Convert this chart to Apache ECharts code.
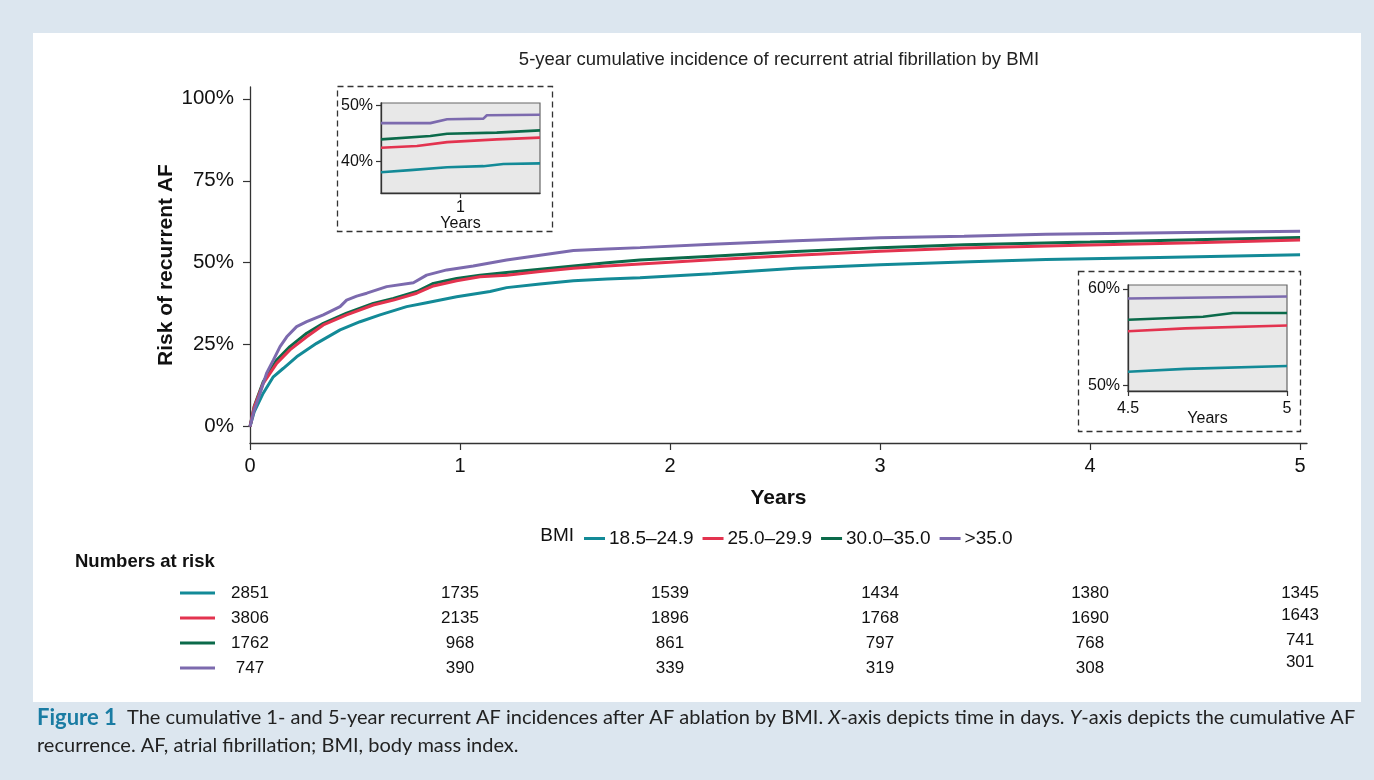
<!DOCTYPE html>
<html>
<head>
<meta charset="utf-8">
<script src="https://cdn.jsdelivr.net/npm/echarts@6/dist/echarts.min.js"></script>
<style>
  html, body { margin: 0; padding: 0; background: #fff; }
  #chart { width: 1374px; height: 780px; }
</style>
</head>
<body>
<div id="chart"></div>
<script>
// BMI groups (legend order)
const groupNames = ['18.5–24.9', '25.0–29.9', '30.0–35.0', '>35.0'];
const groupColors = ['#138a97', '#e3334f', '#0b6a4a', '#7c6aae'];

// cumulative incidence, [years, percent]
const bmiNormal = [[0, 0], [0.02, 4.5], [0.063, 10.2], [0.111, 15.2], [0.159, 17.8], [0.222, 21.3], [0.317, 25.4], [0.429, 29.5], [0.524, 32.0], [0.619, 34.1], [0.746, 36.6], [0.841, 37.8], [0.984, 39.6], [1.143, 41.2], [1.222, 42.4], [1.381, 43.5], [1.54, 44.5], [1.70, 45.0], [1.857, 45.4], [2.2, 46.6], [2.6, 48.3], [3.0, 49.4], [3.43, 50.3], [3.79, 51.0], [4.33, 51.6], [5.0, 52.4]];
const bmiOver = [[0, 0], [0.02, 6], [0.063, 13.2], [0.127, 19.3], [0.19, 23.4], [0.27, 27.4], [0.349, 31.0], [0.46, 34.1], [0.587, 37.1], [0.683, 38.6], [0.794, 40.7], [0.873, 42.9], [0.984, 44.5], [1.095, 45.7], [1.222, 46.2], [1.381, 47.3], [1.54, 48.3], [1.70, 49.0], [1.857, 49.6], [2.2, 50.9], [2.6, 52.3], [3.0, 53.5], [3.4, 54.5], [4.0, 55.4], [4.5, 56.1], [5.0, 56.9]];
const bmiObese = [[0, 0], [0.02, 6.2], [0.063, 13.7], [0.127, 20.3], [0.19, 24.4], [0.27, 28.5], [0.349, 31.5], [0.46, 34.6], [0.587, 37.6], [0.683, 39.1], [0.794, 41.2], [0.873, 43.7], [0.984, 45.2], [1.095, 46.2], [1.222, 47.0], [1.381, 48.0], [1.54, 49.0], [1.70, 50.0], [1.857, 50.8], [2.2, 52.0], [2.6, 53.4], [3.0, 54.6], [3.4, 55.5], [4.0, 56.3], [4.5, 57.0], [5.0, 57.7]];
const bmiSevere = [[0, 0], [0.02, 5], [0.048, 10.2], [0.079, 16.3], [0.111, 20.3], [0.143, 24.4], [0.175, 27.4], [0.222, 30.5], [0.27, 32.0], [0.349, 34.1], [0.429, 36.6], [0.46, 38.6], [0.508, 39.8], [0.556, 40.7], [0.651, 42.7], [0.778, 43.9], [0.841, 46.2], [0.937, 47.8], [1.063, 49.0], [1.222, 50.8], [1.381, 52.3], [1.54, 53.7], [1.70, 54.2], [1.857, 54.6], [2.2, 55.6], [2.6, 56.7], [3.0, 57.6], [3.4, 58.1], [3.79, 58.7], [4.46, 59.2], [5.0, 59.6]];

// inset around 1 year
const zoom1Normal = [[0.75, 38.0], [0.842, 38.4], [0.958, 38.9], [1.072, 39.1], [1.135, 39.5], [1.25, 39.6]];
const zoom1Over = [[0.75, 42.4], [0.863, 42.7], [0.958, 43.4], [1.114, 43.9], [1.25, 44.2]];
const zoom1Obese = [[0.75, 43.9], [0.905, 44.5], [0.958, 44.9], [1.114, 45.1], [1.25, 45.5]];
const zoom1Severe = [[0.75, 46.8], [0.905, 46.8], [0.958, 47.5], [1.072, 47.6], [1.083, 48.2], [1.25, 48.3]];

// inset 4.5 - 5 years
const zoom5Normal = [[4.5, 51.4], [4.68, 51.7], [5.0, 52.0]];
const zoom5Over = [[4.5, 55.6], [4.68, 55.9], [5.0, 56.2]];
const zoom5Obese = [[4.5, 56.8], [4.736, 57.1], [4.83, 57.5], [5.0, 57.5]];
const zoom5Severe = [[4.5, 59.0], [5.0, 59.2]];

const yearTicks = [0, 1, 2, 3, 4, 5];
const pctTicks = [0, 25, 50, 75, 100];

// numbers at risk per year
const riskNormal = [2851, 1735, 1539, 1434, 1380, 1345];
const riskOver = [3806, 2135, 1896, 1768, 1690, 1643];
const riskObese = [1762, 968, 861, 797, 768, 741];
const riskSevere = [747, 390, 339, 319, 308, 301];

const FONT = '"Liberation Sans", Arial, sans-serif';
const AXIS_COLOR = '#333';
const TEXT_COLOR = '#111';

const mainData = [bmiNormal, bmiOver, bmiObese, bmiSevere];
const zoom1Data = [zoom1Normal, zoom1Over, zoom1Obese, zoom1Severe];
const zoom5Data = [zoom5Normal, zoom5Over, zoom5Obese, zoom5Severe];
const riskRows = [riskNormal, riskOver, riskObese, riskSevere];
const drawOrder = [0, 2, 1, 3];

const crearEje = (gridIndex, min, max, ticks, opts) => ({
    type: 'value',
    gridIndex: gridIndex,
    min: min,
    max: max,
    axisLine: { show: true, onZero: false, lineStyle: { color: AXIS_COLOR, width: 1.3 } },
    axisTick: { show: true, length: opts.tick, customValues: ticks, lineStyle: { color: AXIS_COLOR, width: 1.2 } },
    axisLabel: {
        customValues: ticks,
        fontSize: opts.font,
        fontFamily: FONT,
        color: TEXT_COLOR,
        margin: opts.margin,
        formatter: opts.pct ? (v => v + '%') : (v => String(v))
    },
    splitLine: { show: false },
    name: opts.name || '',
    nameLocation: 'middle',
    nameGap: opts.nameGap || 0,
    nameMoveOverlap: false,
    nameTextStyle: {
        fontSize: opts.nameSize || 16,
        fontWeight: opts.nameBold ? 'bold' : 'normal',
        fontFamily: FONT,
        color: TEXT_COLOR
    }
});

const chart = echarts.init(document.getElementById('chart'), null, { renderer: 'canvas' });

const series = [];
const agregarSeries = (datos, axisIndex, width) => {
    drawOrder.forEach(i => {
        series.push({
            name: groupNames[i],
            type: 'line',
            xAxisIndex: axisIndex,
            yAxisIndex: axisIndex,
            data: datos[i],
            showSymbol: false,
            clip: true,
            lineStyle: { color: groupColors[i], width: width },
            itemStyle: { color: groupColors[i] },
            emphasis: { disabled: true }
        });
    });
};
agregarSeries(mainData, 0, 3);
agregarSeries(zoom1Data, 1, 2.6);
agregarSeries(zoom5Data, 2, 2.6);

const opciones = {
    animation: false,
    backgroundColor: '#ffffff',
    grid: [
        { left: 250, top: 87, width: 1057, height: 356 },
        { left: 381, top: 103, width: 159, height: 90, show: true, backgroundColor: '#e8e8e8', borderColor: '#666', borderWidth: 1.2 },
        { left: 1128, top: 285, width: 159, height: 106, show: true, backgroundColor: '#e8e8e8', borderColor: '#666', borderWidth: 1.2 }
    ],
    xAxis: [
        crearEje(0, 0, 5.033, yearTicks, { tick: 7, font: 20, margin: 13, name: 'Years', nameGap: 45, nameSize: 21, nameBold: true }),
        crearEje(1, 0.75, 1.25, [1], { tick: 5, font: 16, margin: 7, name: 'Years', nameGap: 23, nameSize: 16 }),
        crearEje(2, 4.5, 5, [4.5, 5], { tick: 5, font: 16, margin: 10, name: 'Years', nameGap: 20, nameSize: 16 })
    ],
    yAxis: [
        crearEje(0, -5, 103.6, pctTicks, { tick: 7, font: 20.5, margin: 16, pct: true, name: 'Risk of recurrent AF', nameGap: 73, nameSize: 21, nameBold: true }),
        crearEje(1, 34.3, 50.4, [40, 50], { tick: 5, font: 16, margin: 8, pct: true }),
        crearEje(2, 49.4, 60.4, [50, 60], { tick: 5, font: 16, margin: 8, pct: true })
    ],
    legend: {
        data: groupNames,
        left: 579,
        top: 524,
        icon: 'rect',
        itemWidth: 21,
        itemHeight: 3,
        itemGap: 9,
        selectedMode: false,
        textStyle: { fontSize: 19, fontFamily: FONT, color: TEXT_COLOR, padding: [0, 0, 0, -1] }
    },
    series: series
};

chart.setOption(opciones);

// fixed decorations and the numbers-at-risk table
const graficos = [
    // blue page border and caption band
    { type: 'rect', shape: { x: 0, y: 0, width: 1374, height: 33 }, style: { fill: '#dce6ef' } },
    { type: 'rect', shape: { x: 0, y: 0, width: 33, height: 780 }, style: { fill: '#dce6ef' } },
    { type: 'rect', shape: { x: 1361, y: 0, width: 13, height: 780 }, style: { fill: '#dce6ef' } },
    { type: 'rect', shape: { x: 0, y: 702, width: 1374, height: 78 }, style: { fill: '#dce6ef' } },
    // dashed inset frames
    { type: 'rect', shape: { x: 337.5, y: 86.5, width: 215, height: 145 }, style: { fill: 'none', stroke: '#333', lineWidth: 1.3, lineDash: [6, 4] } },
    { type: 'rect', shape: { x: 1078.5, y: 271.5, width: 222, height: 160 }, style: { fill: 'none', stroke: '#333', lineWidth: 1.3, lineDash: [6, 4] } },
    {
        type: 'text', x: 779, y: 60,
        style: { text: '5-year cumulative incidence of recurrent atrial fibrillation by BMI', font: '18.5px ' + FONT, fill: '#222', textAlign: 'center', textVerticalAlign: 'middle' }
    },
    {
        type: 'text', x: 574, y: 536,
        style: { text: 'BMI', font: '19px ' + FONT, fill: TEXT_COLOR, textAlign: 'right', textVerticalAlign: 'middle' }
    },
    {
        type: 'text', x: 75, y: 562,
        style: { text: 'Numbers at risk', font: 'bold 18.5px ' + FONT, fill: TEXT_COLOR, textAlign: 'left', textVerticalAlign: 'middle' }
    },
    {
        type: 'text', x: 37, y: 732,
        style: {
            text: '{b|Figure 1}  The cumulative 1- and 5-year recurrent AF incidences after AF ablation by BMI. {i|X}-axis depicts time in days. {i|Y}-axis depicts the cumulative AF\nrecurrence. AF, atrial fibrillation; BMI, body mass index.',
            font: '20px Lato, "Open Sans", sans-serif',
            fill: '#222',
            lineHeight: 28,
            textVerticalAlign: 'middle',
            rich: {
                b: { font: 'bold 22px Lato, sans-serif', fill: '#1a7ca3', lineHeight: 28 },
                i: { font: 'italic 20px Lato, sans-serif', fill: '#222', lineHeight: 28 }
            }
        }
    }
];

const rowY = [593, 618, 643, 668];
const lastColY = [593, 615, 640, 662];
riskRows.forEach((fila, r) => {
    graficos.push({
        type: 'line',
        shape: { x1: 180, y1: rowY[r], x2: 215, y2: rowY[r] },
        style: { stroke: groupColors[r], lineWidth: 3 }
    });
    fila.forEach((valor, c) => {
        const px = chart.convertToPixel({ xAxisIndex: 0 }, yearTicks[c]);
        graficos.push({
            type: 'text',
            x: px,
            y: c === fila.length - 1 ? lastColY[r] : rowY[r],
            style: { text: String(valor), font: '17px ' + FONT, fill: TEXT_COLOR, textAlign: 'center', textVerticalAlign: 'middle' }
        });
    });
});

chart.setOption({ graphic: graficos });
</script>
</body>
</html>
